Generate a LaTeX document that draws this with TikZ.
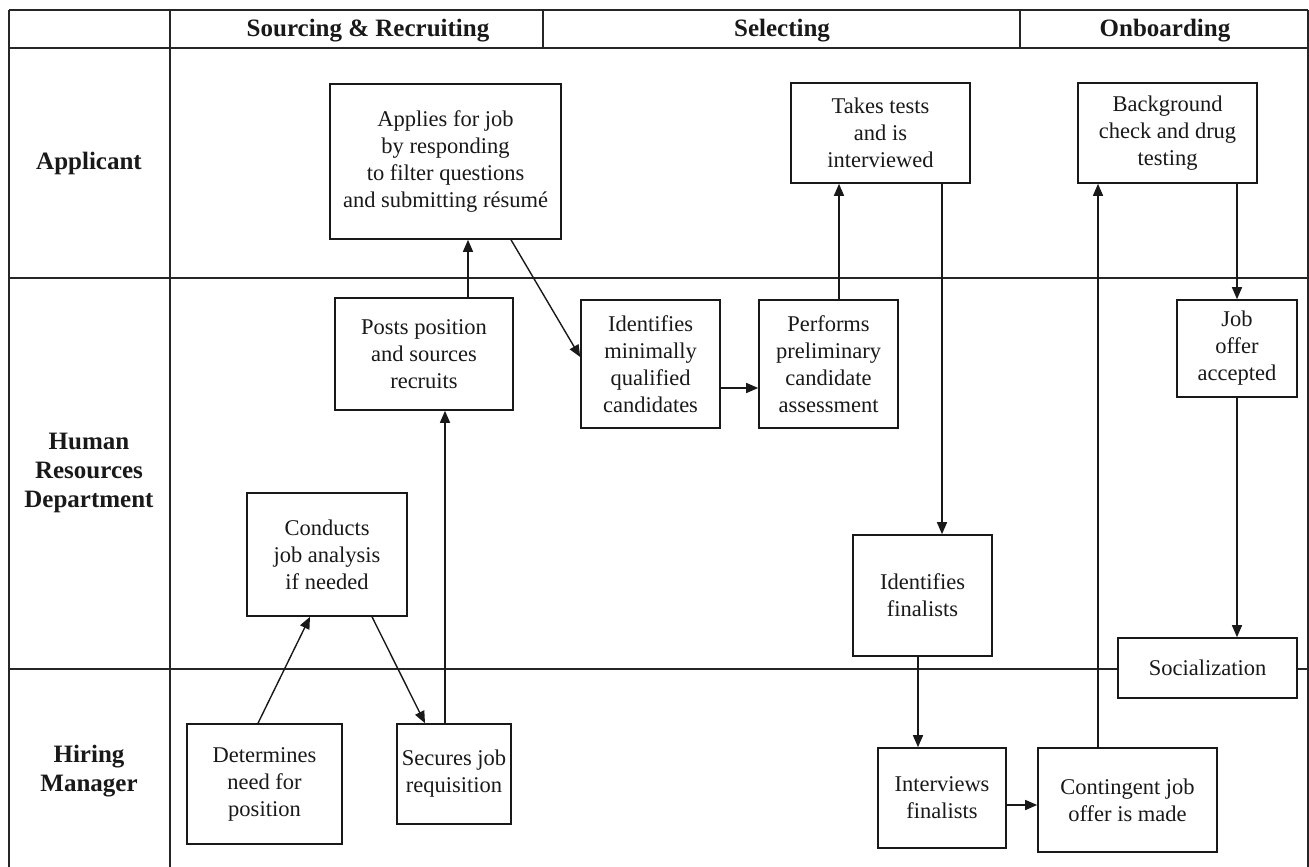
\documentclass[tikz,border=0pt]{standalone}
\usepackage{fontspec}
\setmainfont{Liberation Serif}
\usetikzlibrary{arrows.meta}
\tikzset{
  lane/.style={line width=1.2pt, draw=black!85},
  box/.style={draw=black!90, line width=1.6pt, fill=white, rectangle, align=center, inner sep=0pt,
    font=\fontsize{22.5}{27}\selectfont, text=black!90},
  hdr/.style={font=\bfseries\fontsize{25}{29}\selectfont, align=center, text=black!90, inner sep=0pt},
  arr/.style={line width=1.4pt, draw=black!90, -{Triangle[length=12pt,width=10pt]}}
}
\begin{document}
\begin{tikzpicture}[x=1pt,y=-1pt]
\useasboundingbox (0,0) rectangle (1309,867);
% frame
\draw[lane] (9,10) -- (1308,10);
\draw[lane] (9,48) -- (1308,48);
\draw[lane] (9,278) -- (1308,278);
\draw[lane] (9,669) -- (1308,669);
\draw[lane] (9,10) -- (9,867);
\draw[lane] (170,10) -- (170,867);
\draw[lane] (1308,10) -- (1308,867);
\draw[lane] (543,10) -- (543,48);
\draw[lane] (1020,10) -- (1020,48);
% headers
\node[hdr] (h1) at (368,31) {Sourcing \& Recruiting};
\node[hdr] (h2) at (782,31) {Selecting};
\node[hdr] (h3) at (1165,31) {Onboarding};
\node[hdr] (l1) at (89,163) {Applicant};
\node[hdr] (l2) at (89,473) {Human\\Resources\\Department};
\node[hdr] (l3) at (89,771) {Hiring\\Manager};
% boxes
\node[box, minimum width=231pt, minimum height=155pt] (app) at (445.5,161.5) {Applies for job\\by responding\\to filter questions\\and submitting résumé};
\node[box, minimum width=179pt, minimum height=100pt] (take) at (880.5,133) {Takes tests\\and is\\interviewed};
\node[box, minimum width=179pt, minimum height=100pt] (bg) at (1167.5,133) {Background\\check and drug\\testing};
\node[box, minimum width=178pt, minimum height=112pt] (posts) at (424,354) {Posts position\\and sources\\recruits};
\node[box, minimum width=139pt, minimum height=128pt] (idmin) at (650.5,364) {Identifies\\minimally\\qualified\\candidates};
\node[box, minimum width=139pt, minimum height=128pt] (perf) at (828.5,364) {Performs\\preliminary\\candidate\\assessment};
\node[box, minimum width=120pt, minimum height=97pt] (joa) at (1237,348.5) {Job\\offer\\accepted};
\node[box, minimum width=160pt, minimum height=123pt] (cond) at (327,554.5) {Conducts\\job analysis\\if needed};
\node[box, minimum width=139pt, minimum height=121pt] (idfin) at (922.5,595.5) {Identifies\\finalists};
\node[box, minimum width=179pt, minimum height=60pt] (soc) at (1207.5,668) {Socialization};
\node[box, minimum width=155pt, minimum height=120pt] (det) at (264.5,784) {Determines\\need for\\position};
\node[box, minimum width=114pt, minimum height=100pt] (sec) at (454,774) {Secures job\\requisition};
\node[box, minimum width=128pt, minimum height=100pt] (intv) at (942,798) {Interviews\\finalists};
\node[box, minimum width=179pt, minimum height=104pt] (cont) at (1127.5,800) {Contingent job\\offer is made};
% connectors
\draw[arr] ([xshift=-6.5pt]det.north) -- ([xshift=-17pt]cond.south);
\draw[arr] ([xshift=45pt]cond.south) -- ([xshift=-29pt]sec.north);
\draw[arr] ([xshift=-9pt]sec.north) -- ([xshift=21pt]posts.south);
\draw[arr] ([xshift=44pt]posts.north) -- ([xshift=22.5pt]app.south);
\draw[arr] ([xshift=65.5pt]app.south) -- ([yshift=7pt]idmin.west);
\draw[arr] ([yshift=-24pt]idmin.east) -- ([yshift=-24pt]perf.west);
\draw[arr] ([xshift=10.5pt]perf.north) -- ([xshift=-41.5pt]take.south);
\draw[arr] ([xshift=61.5pt]take.south) -- ([xshift=19.5pt]idfin.north);
\draw[arr] ([xshift=-4.5pt]idfin.south) -- ([xshift=-24pt]intv.north);
\draw[arr] ([yshift=-7pt]intv.east) -- ([yshift=-5pt]cont.west);
\draw[arr] ([xshift=-29.5pt]cont.north) -- ([xshift=-69.5pt]bg.south);
\draw[arr] ([xshift=69.5pt]bg.south) -- (joa.north);
\draw[arr] (joa.south) -- ([xshift=29.5pt]soc.north);
\end{tikzpicture}
\end{document}
